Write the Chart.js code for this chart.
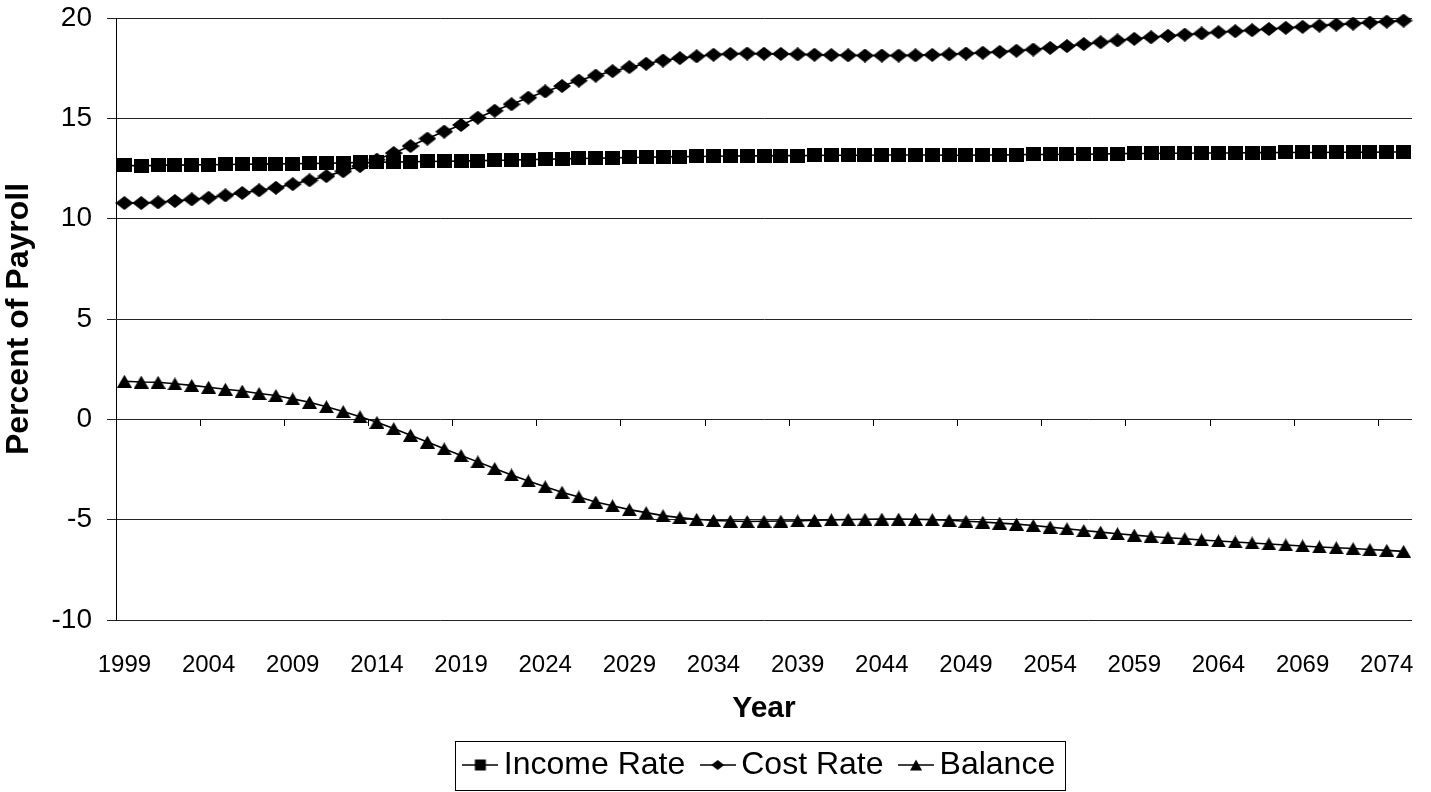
<!DOCTYPE html>
<html><head><meta charset="utf-8">
<script src="https://cdn.jsdelivr.net/npm/chart.js@4"></script>
<style>html,body{margin:0;padding:0;background:#fff;}#wrap{width:1431px;height:792px;}</style>
</head><body><div id="wrap"><canvas id="c" width="1431" height="792"></canvas></div>
<script>
const years = [1999,2000,2001,2002,2003,2004,2005,2006,2007,2008,2009,2010,2011,2012,2013,2014,2015,2016,2017,2018,2019,2020,2021,2022,2023,2024,2025,2026,2027,2028,2029,2030,2031,2032,2033,2034,2035,2036,2037,2038,2039,2040,2041,2042,2043,2044,2045,2046,2047,2048,2049,2050,2051,2052,2053,2054,2055,2056,2057,2058,2059,2060,2061,2062,2063,2064,2065,2066,2067,2068,2069,2070,2071,2072,2073,2074,2075];
const incomeRate = [12.67,12.62,12.67,12.67,12.68,12.69,12.70,12.71,12.72,12.73,12.74,12.75,12.76,12.78,12.80,12.81,12.82,12.84,12.85,12.86,12.87,12.89,12.90,12.92,12.94,12.96,12.98,13.00,13.01,13.03,13.05,13.06,13.08,13.09,13.10,13.11,13.12,13.13,13.13,13.14,13.14,13.15,13.16,13.16,13.16,13.17,13.17,13.17,13.17,13.16,13.16,13.17,13.17,13.19,13.20,13.20,13.21,13.21,13.22,13.24,13.25,13.25,13.26,13.26,13.27,13.27,13.27,13.29,13.29,13.30,13.30,13.30,13.31,13.31,13.31,13.32,13.32];
const costRate = [10.78,10.78,10.81,10.88,10.96,11.04,11.16,11.28,11.41,11.54,11.72,11.91,12.12,12.36,12.62,12.94,13.27,13.62,13.99,14.34,14.67,15.03,15.38,15.70,16.03,16.34,16.61,16.88,17.13,17.35,17.55,17.72,17.88,18.00,18.09,18.17,18.21,18.23,18.22,18.21,18.19,18.17,18.15,18.14,18.13,18.13,18.13,18.14,18.16,18.19,18.23,18.27,18.31,18.37,18.43,18.51,18.60,18.70,18.79,18.88,18.96,19.04,19.11,19.17,19.23,19.29,19.34,19.39,19.45,19.51,19.56,19.62,19.67,19.72,19.77,19.82,19.87];
const balance = [1.90,1.86,1.85,1.77,1.69,1.60,1.50,1.41,1.29,1.19,1.02,0.85,0.63,0.39,0.13,-0.15,-0.46,-0.79,-1.13,-1.47,-1.80,-2.12,-2.45,-2.77,-3.07,-3.36,-3.63,-3.87,-4.12,-4.31,-4.50,-4.65,-4.80,-4.90,-4.98,-5.04,-5.07,-5.09,-5.08,-5.07,-5.06,-5.03,-5.01,-4.99,-4.98,-4.97,-4.97,-4.98,-5.00,-5.03,-5.08,-5.12,-5.17,-5.22,-5.29,-5.37,-5.45,-5.54,-5.62,-5.70,-5.77,-5.84,-5.90,-5.95,-6.01,-6.06,-6.11,-6.16,-6.21,-6.26,-6.31,-6.36,-6.40,-6.44,-6.49,-6.53,-6.58];
const seriesNames = ['Income Rate', 'Cost Rate', 'Balance'];
const yMin = -10, yMax = 20, yStep = 5;
const labelEvery = 5;

const FONT = "'Liberation Sans', Arial, Helvetica, sans-serif";
const LEG_FONT = 32, LEG_PAD = 25, PAD_BOTTOM = 1;
const LEG_BOX = 15;       // pointStyleWidth used for layout
const LEG_IMG_W = 36;     // actual drawn sample width
const PLOT_BOTTOM = 620;

function shape(ctx, kind, cx, cy, w, h) {
  ctx.beginPath();
  if (kind === 'square') {
    ctx.rect(cx - w / 2, cy - h / 2, w, h);
  } else if (kind === 'diamond') {
    ctx.moveTo(cx - w / 2, cy); ctx.lineTo(cx, cy - h / 2);
    ctx.lineTo(cx + w / 2, cy); ctx.lineTo(cx, cy + h / 2);
    ctx.closePath();
  } else {
    ctx.moveTo(cx, cy - h / 2); ctx.lineTo(cx + w / 2, cy + h / 2);
    ctx.lineTo(cx - w / 2, cy + h / 2); ctx.closePath();
  }
  ctx.fillStyle = '#000';
  ctx.fill();
}
function pointImg(kind, w, h) {
  const c = document.createElement('canvas');
  c.width = w; c.height = h;
  shape(c.getContext('2d'), kind, w / 2, h / 2, w, h);
  return c;
}
function legendImg(kind, w, h) {
  const c = document.createElement('canvas');
  c.width = LEG_IMG_W; c.height = 16;
  const ctx = c.getContext('2d');
  ctx.strokeStyle = '#000'; ctx.lineWidth = 1.6;
  ctx.beginPath(); ctx.moveTo(0, 8); ctx.lineTo(LEG_IMG_W, 8); ctx.stroke();
  shape(ctx, kind, LEG_IMG_W / 2, 8, w, h);
  return c;
}
const pointImgs = [pointImg('square', 15, 14), pointImg('diamond', 18, 14), pointImg('triangle', 15, 13)];
const legendImgs = [legendImg('square', 11, 11), legendImg('diamond', 13, 10), legendImg('triangle', 12, 11)];
const seriesData = [incomeRate, costRate, balance];

const legendBorder = {
  id: 'legendBorder',
  afterDraw(chart) {
    const hb = chart.legend && chart.legend.legendHitBoxes;
    if (!hb || !hb.length) return;
    let l = Infinity, r = -Infinity, t = Infinity, b = -Infinity;
    hb.forEach(h => { l = Math.min(l, h.left); r = Math.max(r, h.left + h.width); t = Math.min(t, h.top); b = Math.max(b, h.top + h.height); });
    const over = (LEG_IMG_W - LEG_BOX) / 2;
    const x0 = Math.round(l - over - 7), x1 = Math.round(r + 10);
    const y0 = Math.round(t - 8), y1 = Math.round(b + 9);
    const ctx = chart.ctx;
    ctx.save();
    ctx.strokeStyle = '#000'; ctx.lineWidth = 1;
    ctx.strokeRect(x0 + 0.5, y0 + 0.5, x1 - x0, y1 - y0);
    ctx.restore();
  }
};

new Chart(document.getElementById('c'), {
  type: 'line',
  data: {
    labels: years,
    datasets: seriesData.map((d, i) => ({
      label: seriesNames[i],
      data: d,
      borderColor: '#000',
      backgroundColor: '#000',
      borderWidth: 1.6,
      pointStyle: pointImgs[i],
      pointRadius: 7,
      pointHoverRadius: 7,
      tension: 0,
      fill: false,
      clip: false
    }))
  },
  options: {
    responsive: false,
    animation: false,
    devicePixelRatio: 1,
    layout: { padding: { left: 0, right: 19, top: 18, bottom: PAD_BOTTOM } },
    plugins: {
      tooltip: { enabled: false },
      legend: {
        position: 'bottom',
        fullSize: false,
        labels: {
          usePointStyle: true,
          pointStyleWidth: LEG_BOX,
          padding: LEG_PAD,
          color: '#000',
          font: { family: FONT, size: LEG_FONT },
          generateLabels: (chart) => chart.data.datasets.map((d, i) => ({
            text: d.label, pointStyle: legendImgs[i], fillStyle: '#000', strokeStyle: '#000',
            lineWidth: 0, hidden: false, datasetIndex: i, fontColor: '#000'
          }))
        }
      }
    },
    scales: {
      x: {
        type: 'category',
        offset: true,
        grid: { display: false, drawTicks: false },
        border: { display: false },
        ticks: {
          autoSkip: false, maxRotation: 0, minRotation: 0, padding: 31,
          color: '#000', font: { family: FONT, size: 24 },
          callback: function (v, i) { return i % labelEvery === 0 ? String(years[i]) : ''; }
        },
        title: { display: true, text: 'Year', color: '#000', font: { family: FONT, size: 30, weight: 'bold' }, padding: { top: 0, bottom: -3 } },
        afterFit: (s) => {
          s.height = s.chart.height - PLOT_BOTTOM - PAD_BOTTOM - (LEG_FONT + LEG_PAD + 10);
          s.paddingLeft = 0; s.paddingRight = 0;
        }
      },
      xz: {
        type: 'category',
        position: { y: 0 },
        offset: true,
        grid: {
          offset: true, drawOnChartArea: false, drawTicks: true, tickLength: 7, lineWidth: 1,
          color: (c) => (c.index % labelEvery === 0 && c.index > 0 && c.index < years.length) ? '#000' : 'rgba(0,0,0,0)'
        },
        border: { display: false },
        ticks: { display: false }
      },
      y: {
        min: yMin, max: yMax,
        ticks: { stepSize: yStep, padding: 15, color: '#000', font: { family: FONT, size: 28 } },
        grid: { color: '#222', lineWidth: 1, tickLength: 9, drawTicks: true },
        border: { display: true, color: '#000', width: 1 },
        title: { display: true, text: 'Percent of Payroll', color: '#000', font: { family: FONT, size: 32, weight: 'bold' }, padding: { top: 0, bottom: 0 } },
        afterFit: (s) => { s.width = 116; s.paddingTop = 0; s.paddingBottom = 0; }
      }
    }
  },
  plugins: [legendBorder]
});
</script>
</body></html>
